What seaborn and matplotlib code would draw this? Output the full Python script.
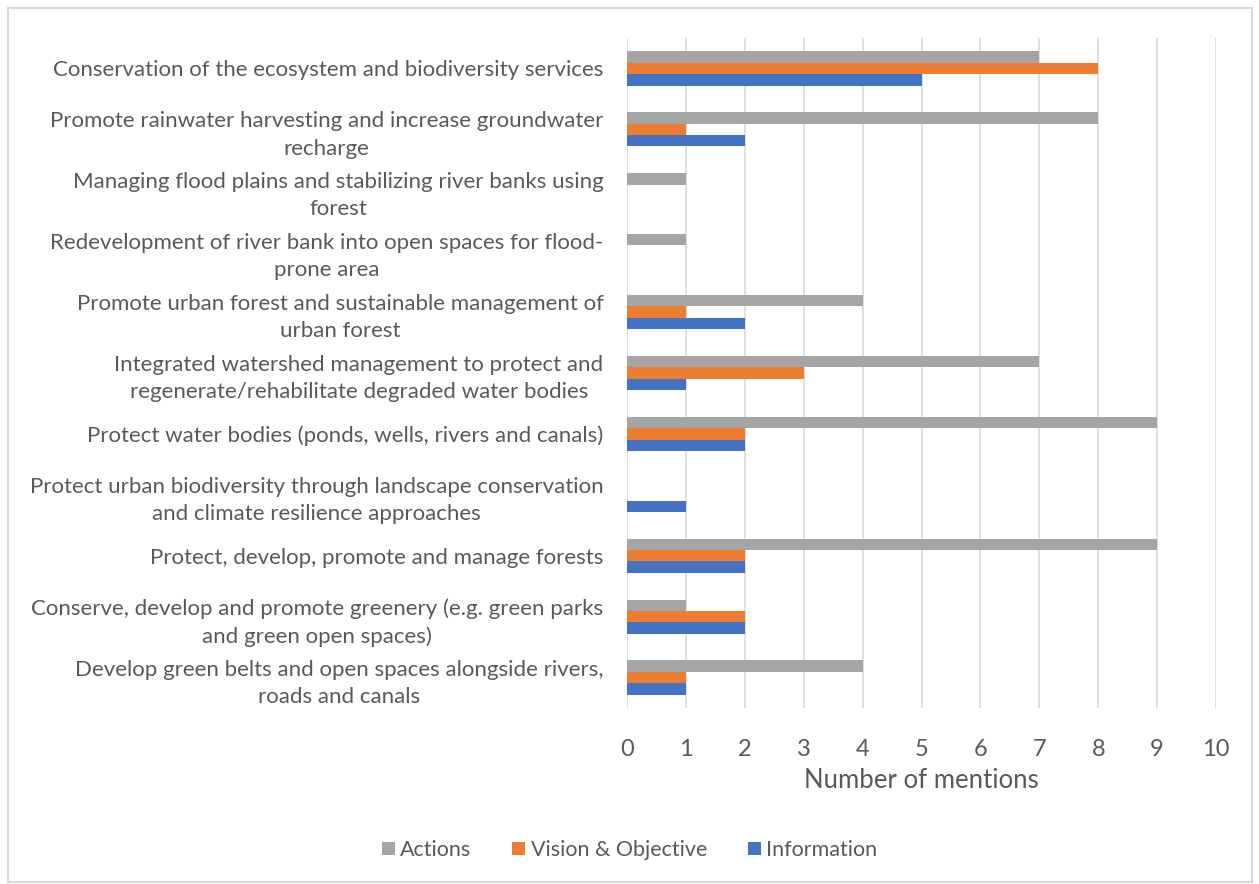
import matplotlib
matplotlib.use("Agg")
import matplotlib.pyplot as plt
import seaborn as sns
import pandas as pd
from matplotlib.patches import Rectangle, Patch

categories = [
    "Conservation of the ecosystem and biodiversity services",
    "Promote rainwater harvesting and increase groundwater\nrecharge",
    "Managing flood plains and stabilizing river banks using\nforest",
    "Redevelopment of river bank into open spaces for flood-\nprone area",
    "Promote urban forest and sustainable management of\nurban forest",
    "Integrated watershed management to protect and\nregenerate/rehabilitate degraded water bodies",
    "Protect water bodies (ponds, wells, rivers and canals)",
    "Protect urban biodiversity through landscape conservation\nand climate resilience approaches",
    "Protect, develop, promote and manage forests",
    "Conserve, develop and promote greenery (e.g. green parks\nand green open spaces)",
    "Develop green belts and open spaces alongside rivers,\nroads and canals",
]
series = ["Actions", "Vision & Objective", "Information"]
actions = [7, 8, 1, 1, 4, 7, 9, 0, 9, 1, 4]
vision = [8, 1, 0, 0, 1, 3, 2, 0, 2, 2, 1]
information = [5, 2, 0, 0, 2, 1, 2, 1, 2, 2, 1]
colors = ["#A5A5A5", "#ED7D31", "#4472C4"]

rows = []
for name, vals in zip(series, [actions, vision, information]):
    for cat, v in zip(categories, vals):
        rows.append({"category": cat, "series": name, "mentions": v})
df = pd.DataFrame(rows)

sns.set_theme(style="white")
plt.rcParams["font.family"] = ["Lato", "DejaVu Sans"]
text_color = "#595959"

fig = plt.figure(figsize=(12.59, 8.84), dpi=100)
ax = fig.add_axes([627 / 1259, 1 - 708 / 884, (1216 - 627) / 1259, (708 - 38) / 884])

sns.barplot(
    data=df, y="category", x="mentions", hue="series",
    order=categories, hue_order=series, palette=colors,
    orient="h", width=0.56, gap=0, ax=ax, legend=False,
    saturation=1, linewidth=0,
)

ax.set_xlim(0, 10)
ax.set_xticks(range(0, 11))
ax.set_ylim(len(categories) - 0.5, -0.5)
ax.grid(axis="x", color="#D9D9D9", linewidth=1.2)
ax.set_axisbelow(True)
for s in ax.spines.values():
    s.set_visible(False)

ax.tick_params(axis="x", colors=text_color, labelsize=17, length=0, pad=22)
ax.tick_params(axis="y", colors=text_color, labelsize=16, length=0, pad=17)
for lbl in ax.get_yticklabels():
    lbl.set_multialignment("center")
    lbl.set_linespacing(1.45)
ax.set_ylabel("")
ax.set_xlabel("Number of mentions", fontsize=18.5, color=text_color, labelpad=6)

handles = [Patch(facecolor=c, edgecolor="none") for c in colors]
fig.legend(
    handles, series, loc="center", bbox_to_anchor=(0.5, 1 - 850 / 884),
    ncol=3, frameon=False, fontsize=15.5, handlelength=0.6, handleheight=0.6,
    handletextpad=0.25, columnspacing=1.9, labelcolor=text_color,
)

fig.patches.append(Rectangle((8 / 1259, 1 - 882 / 884), (1252 - 8) / 1259, (882 - 8) / 884,
                             transform=fig.transFigure, fill=False,
                             edgecolor="#D9D9D9", linewidth=1.5))

fig.savefig("out.png", dpi=100, facecolor="white")
